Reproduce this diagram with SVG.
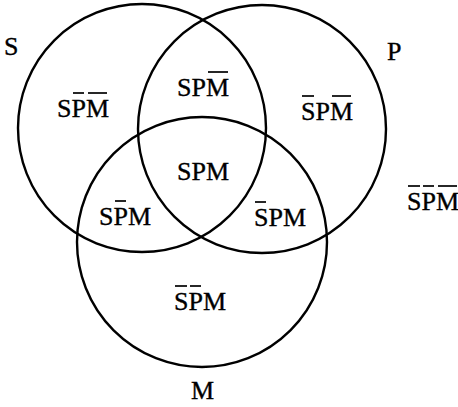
<svg xmlns="http://www.w3.org/2000/svg" width="458" height="407" viewBox="0 0 458 407">
  <style>
    .ring { fill: none; stroke: #000; stroke-width: 2.4; }
    .lbl { font-family: "Liberation Serif", "Times New Roman", serif; font-size: 26px; fill: #000; stroke: #000; stroke-width: 0.35; }
    .bar { stroke: #000; stroke-width: 1.7; }
  </style>
  <rect width="458" height="407" fill="#fff"/>

  <!-- the three sets -->
  <g id="set-S">
    <circle class="ring" cx="142" cy="128" r="124"/>
    <text class="lbl" x="4" y="55">S</text>
  </g>
  <g id="set-P">
    <circle class="ring" cx="262" cy="129" r="124"/>
    <text class="lbl" x="387" y="60">P</text>
  </g>
  <g id="set-M">
    <circle class="ring" cx="202" cy="242" r="125"/>
    <text class="lbl" x="191" y="399">M</text>
  </g>

  <!-- region labels; overbars mark negated terms -->
  <g id="region-S-notP-notM">
    <text class="lbl" x="57" y="117">SPM</text>
    <line class="bar" x1="73" y1="93" x2="84" y2="93"/>
    <line class="bar" x1="88" y1="93" x2="107" y2="93"/>
  </g>
  <g id="region-S-P-notM">
    <text class="lbl" x="177" y="96">SPM</text>
    <line class="bar" x1="208" y1="72" x2="228" y2="72"/>
  </g>
  <g id="region-notS-P-notM">
    <text class="lbl" x="301" y="120">SPM</text>
    <line class="bar" x1="302" y1="96" x2="314" y2="96"/>
    <line class="bar" x1="332" y1="96" x2="351" y2="96"/>
  </g>
  <g id="region-S-P-M">
    <text class="lbl" x="177" y="180">SPM</text>
  </g>
  <g id="region-S-notP-M">
    <text class="lbl" x="99" y="225">SPM</text>
    <line class="bar" x1="115" y1="201" x2="126" y2="201"/>
  </g>
  <g id="region-notS-P-M">
    <text class="lbl" x="254" y="226">SPM</text>
    <line class="bar" x1="255" y1="202" x2="266" y2="202"/>
  </g>
  <g id="region-notS-notP-M">
    <text class="lbl" x="174" y="310">SPM</text>
    <line class="bar" x1="175" y1="286" x2="187" y2="286"/>
    <line class="bar" x1="190" y1="286" x2="201" y2="286"/>
  </g>
  <g id="region-outside">
    <text class="lbl" x="407" y="210">SPM</text>
    <line class="bar" x1="408" y1="186" x2="420" y2="186"/>
    <line class="bar" x1="423" y1="186" x2="434" y2="186"/>
    <line class="bar" x1="438" y1="186" x2="457" y2="186"/>
  </g>

  <g id="connectors"/>
</svg>
